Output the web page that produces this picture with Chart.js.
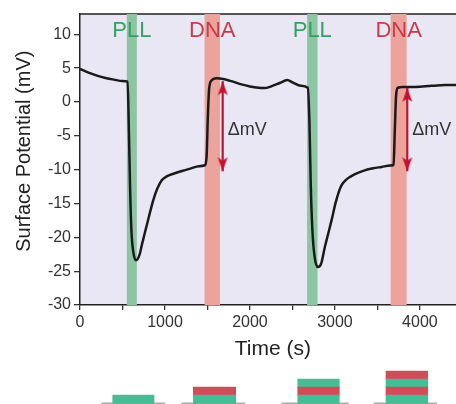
<!DOCTYPE html>
<html>
<head>
<meta charset="utf-8">
<script src="https://cdn.jsdelivr.net/npm/chart.js@4.4.1/dist/chart.umd.min.js"></script>
<style>
    html, body { margin: 0; padding: 0; background: #fff; overflow: hidden; }
    #wrap { position: relative; width: 456px; height: 404px; overflow: hidden; }
    #potential { position: absolute; left: 0; top: 0; }
    #layers { position: absolute; left: 0; top: 360px; }
</style>
</head>
<body>
<div id="wrap">
    <canvas id="potential" width="474" height="404"></canvas>
    <canvas id="layers" width="474" height="44"></canvas>
</div>
<script>
// surface potential trace (time in s, potential in mV)
const time = [
    0, 100, 200, 300, 400, 500, 560, 575, 590, 605, 625, 660, 700, 730, 770, 810, 860, 910, 960, 1020,
    1100, 1200, 1300, 1400, 1470, 1490, 1505, 1520, 1550, 1600, 1700, 1800, 1900, 2000, 2100, 2170,
    2250, 2350, 2440, 2500, 2600, 2680, 2700, 2715, 2735, 2760, 2800, 2840, 2880, 2920, 2960, 3010,
    3070, 3130, 3230, 3350, 3450, 3550, 3650, 3690, 3705, 3720, 3740, 3800, 3900, 4000, 4100, 4200,
    4300, 4400, 4540
];
const potential = [
    4.9, 4.35, 3.9, 3.55, 3.3, 3.1, 3.0, -4, -13, -19, -22, -23.4, -22.6, -21, -19, -17, -14.6, -12.8, -11.6, -11,
    -10.6, -10.2, -9.85, -9.5, -9.35, -8, -2, 2, 3.2, 3.5, 3.35, 3.0, 2.6, 2.3, 2.1, 2.05,
    2.3, 2.8, 3.25, 2.9, 2.4, 2.1, -3, -12, -19, -22.8, -24.4, -23.8, -21.5, -19.5, -17.5, -14.8,
    -12.5, -11.5, -10.7, -10.1, -9.8, -9.6, -9.4, -9.3, -4, 1, 2.1, 2.2, 2.2, 2.25, 2.35, 2.45,
    2.5, 2.5, 2.5
];

// deposition steps (shaded bands)
const bandNames = ["PLL", "DNA", "PLL", "DNA"];
const bandStart = [555, 1470, 2676, 3660];
const bandEnd = [665, 1643, 2791, 3840];
const labelLevel = 10.45;

// ΔmV arrows
const arrowTime = [1679, 3851];
const arrowTop = [3.06, 2.08];
const arrowBottom = [-10.24, -10.24];
const deltaLevel = -4.1;

// film cartoons under the plot: number of layers and their time span
const layerCount = [1, 2, 3, 4];
const stackStart = [377, 1306, 2509, 3526];
const stackEnd = [853, 1794, 2988, 4007];
const baseStart = [250, 1172, 2324, 3388];
const baseEnd = [979, 1901, 3092, 4110];

// axis ticks
const xTicks = [0, 500, 1000, 1500, 2000, 2500, 3000, 3500, 4000, 4500];
const xLabelStep = 1000;

const FONT = "'Liberation Sans', Arial, Helvetica, sans-serif";
Chart.defaults.font.family = FONT;
Chart.defaults.color = "#333";

const GREEN = "#8cc5a2";
const RED = "#eca39c";

// arrow head drawn once, tip sits in the middle of the little canvas
const head = document.createElement("canvas");
head.width = 30;
head.height = 30;
const hc = head.getContext("2d");
hc.fillStyle = "#c3112f";
hc.beginPath();
hc.moveTo(15, 15);
hc.lineTo(20, 29);
hc.lineTo(15, 25.5);
hc.lineTo(10, 29);
hc.closePath();
hc.fill();

const decorations = {
    id: "decorations",
    beforeDraw(chart) {
        const { ctx, chartArea: a } = chart;
        ctx.save();
        ctx.fillStyle = "#e8e7f3";
        ctx.fillRect(a.left, a.top, a.right - a.left, a.bottom - a.top);
        ctx.strokeStyle = "#222";
        ctx.lineWidth = 1.5;
        ctx.beginPath();
        ctx.moveTo(a.left, a.top);
        ctx.lineTo(a.right, a.top);
        ctx.stroke();
        ctx.restore();
    },
    afterDatasetsDraw(chart) {
        const { ctx, scales: { x, y } } = chart;
        ctx.save();
        ctx.textAlign = "center";
        ctx.textBaseline = "middle";
        ctx.font = "22px " + FONT;
        bandNames.forEach((name, i) => {
            ctx.fillStyle = name === "PLL" ? "#36a062" : "#cc3a4a";
            ctx.fillText(name, x.getPixelForValue((bandStart[i] + bandEnd[i]) / 2), y.getPixelForValue(labelLevel));
        });
        ctx.font = "18px " + FONT;
        ctx.fillStyle = "#333";
        ctx.textAlign = "left";
        arrowTime.forEach(t => {
            ctx.fillText("ΔmV", x.getPixelForValue(t) + 5, y.getPixelForValue(deltaLevel));
        });
        ctx.restore();
    }
};

const datasets = [{
    type: "bar",
    indexAxis: "y",
    xAxisID: "x",
    yAxisID: "yb",
    data: bandStart.map((s, i) => ({ x: [s, bandEnd[i]], y: "band" })),
    backgroundColor: bandNames.map(n => n === "PLL" ? GREEN : RED),
    borderWidth: 0,
    grouped: false,
    categoryPercentage: 1,
    barPercentage: 1,
    order: 3
}, {
    type: "line",
    data: time.map((t, i) => ({ x: t, y: potential[i] })),
    borderColor: "#1a1a1a",
    borderWidth: 2.5,
    pointRadius: 0,
    cubicInterpolationMode: "monotone",
    order: 2
}];

arrowTime.forEach((t, i) => {
    datasets.push({
        type: "line",
        data: [{ x: t, y: arrowTop[i] }, { x: t, y: arrowBottom[i] }],
        borderColor: "#c3112f",
        borderWidth: 2.2,
        pointStyle: head,
        pointRadius: 6,
        pointRotation: [0, 180],
        order: 1
    });
});

new Chart(document.getElementById("potential"), {
    type: "line",
    data: { datasets: datasets },
    plugins: [decorations],
    options: {
        responsive: false,
        animation: false,
        events: [],
        layout: { padding: { top: 14, left: 0, right: 0, bottom: 0 } },
        plugins: {
            legend: { display: false },
            tooltip: { enabled: false }
        },
        scales: {
            x: {
                type: "linear",
                min: 0,
                max: 4540,
                offset: false,
                afterFit(scale) { scale.height = 99; },
                afterBuildTicks(scale) {
                    scale.ticks = xTicks.map(v => ({ value: v }));
                },
                ticks: {
                    autoSkip: false,
                    maxRotation: 0,
                    padding: 3,
                    font: { size: 16 },
                    color: "#333",
                    callback: v => v % xLabelStep === 0 ? String(v) : ""
                },
                grid: { drawOnChartArea: false, offset: false, color: "#333", lineWidth: 1.3, tickLength: 5 },
                border: { color: "#222", width: 1.5 },
                title: {
                    display: true,
                    text: "Time (s)",
                    font: { size: 21 },
                    color: "#222",
                    padding: { top: 0, bottom: 42 }
                }
            },
            y: {
                type: "linear",
                min: -30,
                max: 13,
                offset: false,
                afterFit(scale) { scale.width = 80; },
                ticks: {
                    stepSize: 5,
                    includeBounds: false,
                    padding: 3,
                    font: { size: 16 },
                    color: "#333",
                    callback: v => String(v)
                },
                grid: { drawOnChartArea: false, color: "#333", lineWidth: 1.3, tickLength: 6 },
                border: { color: "#222", width: 1.5 },
                title: {
                    display: true,
                    text: "   Surface Potential (mV)",
                    font: { size: 20 },
                    color: "#222",
                    padding: { top: 12, bottom: 0 }
                }
            },
            yb: {
                type: "category",
                labels: ["band"],
                offset: true,
                display: false
            }
        }
    }
});

// cartoons of the growing film
const layerSets = [1, 2, 3, 4].map(k => ({
    data: layerCount
        .map((n, i) => n >= k ? { x: [stackStart[i], stackEnd[i]], y: k - 0.5 } : null)
        .filter(d => d),
    backgroundColor: k % 2 ? "#45be96" : "#d24b58",
    borderWidth: 0,
    grouped: false,
    barThickness: 8.3
}));
layerSets.push({
    data: baseStart.map((s, i) => ({ x: [s, baseEnd[i]], y: 0 })),
    backgroundColor: "#a9a9a9",
    borderWidth: 0,
    grouped: false,
    barThickness: 1.2
});

new Chart(document.getElementById("layers"), {
    type: "bar",
    data: { datasets: layerSets },
    options: {
        indexAxis: "y",
        responsive: false,
        animation: false,
        events: [],
        layout: { padding: { top: 3, left: 80, right: 0, bottom: 0 } },
        plugins: {
            legend: { display: false },
            tooltip: { enabled: false }
        },
        scales: {
            x: { type: "linear", min: 0, max: 4540, display: false },
            y: { type: "linear", min: -0.08, max: 5, offset: false, display: false }
        }
    }
});
</script>
</body>
</html>
